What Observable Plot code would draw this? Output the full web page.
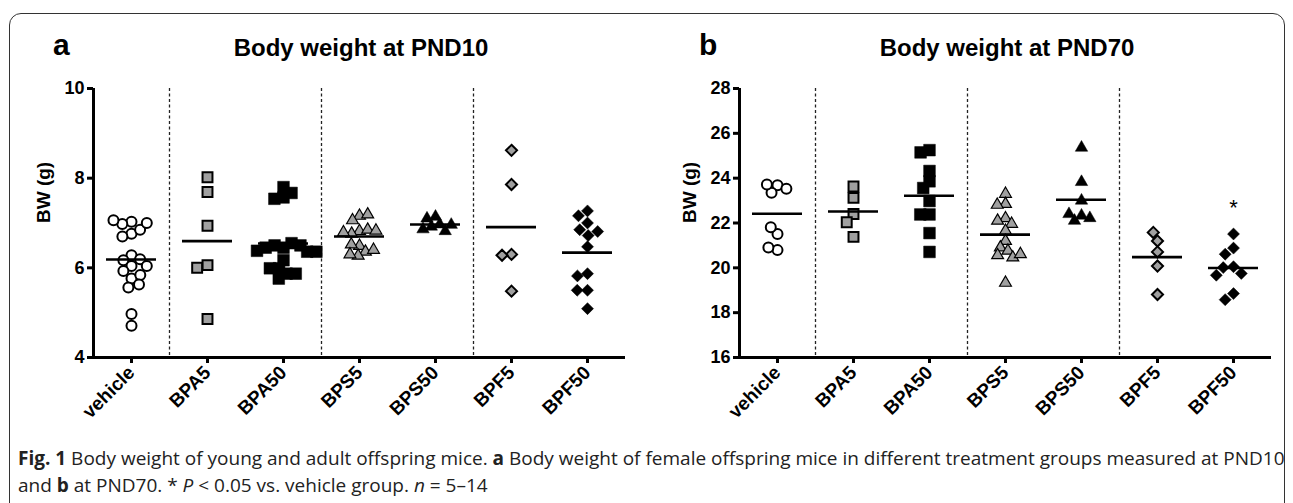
<!DOCTYPE html>
<html><head><meta charset="utf-8">
<script src="https://cdn.jsdelivr.net/npm/d3@7"></script>
<script src="https://cdn.jsdelivr.net/npm/@observablehq/plot@0.6"></script>
<style>
html,body{margin:0;padding:0;background:#fff;}
#fig{position:relative;width:1293px;height:503px;overflow:hidden;font-family:"Liberation Sans",Arial,sans-serif;}
.border{position:absolute;left:9px;top:13px;width:1276px;height:520px;border:1.5px solid #333;border-radius:12px;box-sizing:border-box;}
.panel{position:absolute;top:0;}
.letter{position:absolute;font-weight:bold;font-size:30px;line-height:1;}
.title{position:absolute;font-weight:bold;font-size:24px;line-height:1;text-align:center;width:400px;}
.cap{position:absolute;left:18px;font-family:"Open Sans",sans-serif;font-size:19px;line-height:1;white-space:nowrap;color:#222;}
</style></head>
<body><div id="fig">
<div class="border"></div>
<div class="letter" style="left:53px;top:30px">a</div>
<div class="letter" style="left:699px;top:30px">b</div>
<div class="title" style="left:161px;top:36px">Body weight at PND10</div>
<div class="title" style="left:807px;top:36px">Body weight at PND70</div>
<div id="pa" class="panel" style="left:0px"></div>
<div id="pb" class="panel" style="left:646px"></div>
<div class="cap" style="top:449px"><b>Fig. 1</b> Body weight of young and adult offspring mice. <b>a</b> Body weight of female offspring mice in different treatment groups measured at PND10</div>
<div class="cap" style="top:476px">and <b>b</b> at PND70. * <i>P</i> &lt; 0.05 vs. vehicle group. <i>n</i> = 5–14</div>
</div>
<script>
const groups = ["vehicle","BPA5","BPA50","BPS5","BPS50","BPF5","BPF50"];

// Panel a: body weight at PND10 (g)
const pnd10_vehicle = [7.03,6.98,6.76,6.70,6.85,7.00,7.06,6.28,6.17,6.19,6.04,6.04,5.93,5.76,5.84,5.56,5.63,4.97,4.71];
const pnd10_BPA5    = [8.02,7.69,6.94,6.06,6.00,4.86];
const pnd10_BPA50   = [7.80,7.57,7.54,7.67,6.45,6.50,6.55,6.50,6.45,6.36,6.38,6.36,6.17,5.99,5.87,5.76,5.87,5.99];
const pnd10_BPS5    = [7.16,7.06,7.19,6.82,6.76,6.85,6.79,6.83,6.49,6.52,6.36,6.27,6.30,6.40];
const pnd10_BPS50   = [7.14,7.10,6.97,6.92,6.82,6.86,6.96];
const pnd10_BPF5    = [8.62,7.86,6.30,6.28,5.48];
const pnd10_BPF50   = [7.27,7.16,7.00,6.85,6.72,6.81,6.47,5.87,5.82,5.50,5.50,5.09];

// Panel b: body weight at PND70 (g)
const pnd70_vehicle = [23.68,23.35,23.53,23.72,21.51,21.81,20.79,20.91];
const pnd70_BPA5    = [23.12,23.63,22.40,22.03,21.38];
const pnd70_BPA50   = [25.25,25.15,24.32,23.86,23.56,22.98,22.38,22.38,21.55,20.71];
const pnd70_BPS5    = [23.30,22.85,22.81,22.21,22.10,21.96,21.65,21.20,20.91,20.76,20.56,20.46,20.61,19.33];
const pnd70_BPS50   = [25.36,23.83,23.00,22.33,22.10,22.22,22.40];
const pnd70_BPF5    = [21.20,21.58,20.71,20.08,18.81];
const pnd70_BPF50   = [21.51,20.88,20.61,20.05,20.01,19.75,19.67,18.85,18.58];

const pnd10_ticks = [4,6,8,10];
const pnd70_ticks = [16,18,20,22,24,26,28];
const starGroup = "BPF50";
const starLevel = 22.85;

const style = {
  vehicle: {symbol:"circle",  fill:"white",   stroke:"black", sw:2,   r:5,   pad:-0.5},
  BPA5:    {symbol:"square",  fill:"#a0a0a0", stroke:"black", sw:2,   r:5.6, pad:-0.5},
  BPA50:   {symbol:"square",  fill:"black",   stroke:"black", sw:0.5, r:6.6, pad:-4},
  BPS5:    {symbol:"triangle",fill:"#a0a0a0", stroke:"black", sw:1.2, r:4.4, pad:-0.5},
  BPS50:   {symbol:"triangle",fill:"black",   stroke:"black", sw:0.5, r:4.6, pad:-0.5},
  BPF5:    {symbol:"diamond2",fill:"#a0a0a0", stroke:"black", sw:2,   r:5,   pad:-0.5},
  BPF50:   {symbol:"diamond2",fill:"black",   stroke:"black", sw:0.5, r:5.4, pad:-0.5}
};

function panel(values, ticks, star) {
  const yDomain = [ticks[0], ticks[ticks.length-1]];
  const means = groups.map(g => ({group:g, mean:d3.mean(values[g])}));
  const dotMarks = groups.map(g => {
    const s = style[g];
    const rows = values[g].map(v => ({group:g, value:v}));
    return Plot.dot(rows, Plot.dodgeX({anchor:"middle", padding:s.pad}, {
      fx:"group", y:"value", r:s.r, symbol:s.symbol, fill:s.fill,
      stroke:s.stroke, strokeWidth:s.sw
    }));
  });
  const marks = [
    Plot.ruleX([{group:"BPA5"},{group:"BPS5"},{group:"BPF5"}], {fx:"group", x:0, strokeDasharray:"3,2.5", strokeWidth:1.3, stroke:"#222"}),
    Plot.ruleY([yDomain[0]], {strokeWidth:3}),
    Plot.ruleX([{group:"vehicle"}], {fx:"group", x:0, strokeWidth:3}),
    Plot.axisY({ticks, tickFormat:"d", tickSize:6, strokeWidth:3, tickPadding:3, fontSize:18, fontWeight:"bold", label:null}),
    Plot.text([{group:"vehicle"}], {fx:"group", text:()=> "BW (g)", frameAnchor:"left", dx:-50, rotate:-90, fontSize:19, fontWeight:"bold"}),
    Plot.axisFx({anchor:"bottom", tickSize:6, strokeWidth:3, tickPadding:6, tickRotate:-45, fontSize:19, fontWeight:"bold", label:null}),
    ...dotMarks,
    Plot.tickY(means, {fx:"group", y:"mean", strokeWidth:2.6, insetLeft:13, insetRight:13})
  ];
  if (star) marks.push(Plot.text([star], {fx:"group", y:"value", text:()=>"*", fontSize:22, dy:4}));
  return Plot.plot({
    width:646, height:440,
    marginLeft:91, marginRight:19, marginTop:88, marginBottom:83,
    style:{fontFamily:"Liberation Sans, Arial, sans-serif", color:"black", background:"transparent"},
    fx:{domain:groups, padding:0, label:null},
    x:{domain:[0,1], axis:null},
    y:{domain:yDomain, axis:null},
    marks
  });
}

const va = {vehicle:pnd10_vehicle, BPA5:pnd10_BPA5, BPA50:pnd10_BPA50, BPS5:pnd10_BPS5, BPS50:pnd10_BPS50, BPF5:pnd10_BPF5, BPF50:pnd10_BPF50};
const vb = {vehicle:pnd70_vehicle, BPA5:pnd70_BPA5, BPA50:pnd70_BPA50, BPS5:pnd70_BPS5, BPS50:pnd70_BPS50, BPF5:pnd70_BPF5, BPF50:pnd70_BPF50};
document.getElementById("pa").appendChild(panel(va, pnd10_ticks, null));
document.getElementById("pb").appendChild(panel(vb, pnd70_ticks, {group:starGroup, value:starLevel}));
</script>
</body></html>
